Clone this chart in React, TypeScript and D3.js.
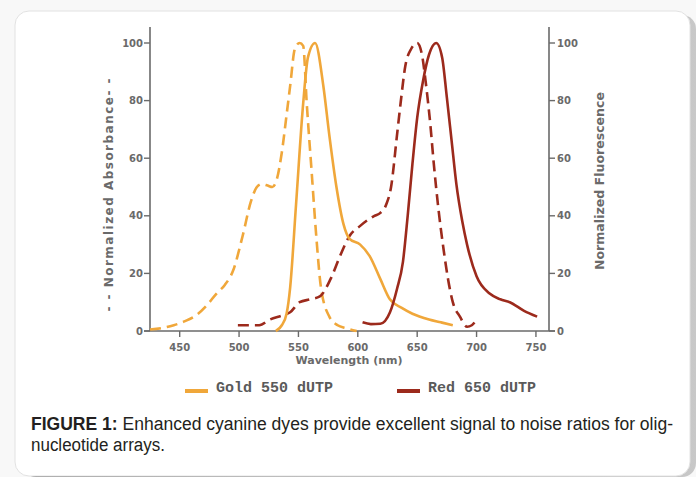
import React, { useEffect } from "react";
import * as d3 from "d3";

// Gold 550 dUTP absorbance (dashed)
const goldAbsWl = [425, 435, 445, 455, 464, 473, 481, 488, 495, 503, 510, 515, 519, 524, 528, 532, 536, 540, 543, 547, 551, 554, 557, 561, 565, 569, 576, 583, 590, 599];
const goldAbsVal = [0.5, 1, 2, 3.5, 5.5, 9, 13, 16, 21, 33, 45, 50, 51, 50.5, 50, 53, 62, 75, 85, 98, 100, 99, 79, 56, 33, 15, 5, 2, 1, 0];

// Gold 550 dUTP fluorescence (solid)
const goldEmWl = [531, 536, 540, 543, 548, 554, 558, 564, 571, 576, 582, 588, 593, 602, 610, 619, 627, 637, 646, 660, 670, 680];
const goldEmVal = [0, 2, 6, 15, 44, 79, 95, 100, 85, 68, 50, 37, 32, 30, 26, 18, 11, 8, 6, 4, 3, 2];

// Red 650 dUTP absorbance (dashed)
const redAbsWl = [499, 508, 517, 526, 537, 543, 551, 560, 568, 577, 585, 593, 602, 610, 614, 619, 624, 628, 633, 636, 640, 645, 650, 654, 657, 661, 664, 668, 672, 676, 680, 686, 692, 696, 700];
const redAbsVal = [2, 2, 2, 4, 5.5, 6.5, 10, 11, 12, 18, 26, 33, 36.5, 39, 40, 41, 44, 50, 68, 79, 92, 98, 100, 96, 87, 72, 58, 42, 29, 18, 10, 5, 1.5, 2, 4];

// Red 650 dUTP fluorescence (solid)
const redEmWl = [604, 611, 619, 627, 633, 638, 642, 646, 650, 655, 660, 666, 671, 675, 679, 683, 688, 692, 700, 711, 720, 728, 740, 751];
const redEmVal = [3, 2.4, 2.5, 6.4, 14.6, 24, 40, 58, 74, 87, 96, 100, 95, 81, 66, 51, 38, 30, 19, 13, 11, 10, 7, 5];

const xTicks = [450, 500, 550, 600, 650, 700, 750];
const yTicks = [0, 20, 40, 60, 80, 100];
const legendLabels = ["Gold 550 dUTP", "Red 650 dUTP"];

const GOLD = "#f0a73a";
const RED = "#9c2a1c";
const AXIS = "#6a6a6a";
const tickFont = "'DejaVu Sans', Verdana, sans-serif";

export default function App() {
  useEffect(() => {
    document.body.style.margin = "0";
  }, []);

  const x = d3.scaleLinear().domain([425, 761]).range([150, 549]);
  const y = d3.scaleLinear().domain([0, 100]).range([331, 43]);

  const line = d3
    .line<[number, number]>()
    .x((d) => x(d[0]))
    .y((d) => y(d[1]))
    .curve(d3.curveMonotoneX);

  const pts = (wl: number[], v: number[]) => wl.map((w, i) => [w, v[i]] as [number, number]);

  const series = [
    { d: pts(goldAbsWl, goldAbsVal), color: GOLD, dash: "11,6" },
    { d: pts(redAbsWl, redAbsVal), color: RED, dash: "11,6" },
    { d: pts(goldEmWl, goldEmVal), color: GOLD, dash: null },
    { d: pts(redEmWl, redEmVal), color: RED, dash: null },
  ];

  return (
    <svg width={696} height={477} style={{ display: "block" }}>
      <defs>
        <linearGradient id="shadow" x1="0" x2="1" y1="0" y2="0">
          <stop offset="0" stopColor="#7a7a7a" />
          <stop offset="1" stopColor="#c8c8c8" />
        </linearGradient>
      </defs>
      <rect width={696} height={477} fill="#f8f8f8" />
      {/* panel with shadow */}
      <rect x={22} y={15} width={674} height={462} rx={14} fill="url(#shadow)" />
      <rect x={15} y={11} width={675} height={465} rx={14} fill="#fff" stroke="#e2e2e2" />

      {/* axes */}
      <g stroke={AXIS} strokeWidth={1.6} fill="none">
        <line x1={150} x2={150} y1={27} y2={331} />
        <line x1={549} x2={549} y1={27} y2={331} />
        <line x1={144} x2={555} y1={331} y2={331} />
      </g>

      {yTicks.map((t) => (
        <g key={"l" + t}>
          <line x1={144} x2={150} y1={y(t)} y2={y(t)} stroke={AXIS} strokeWidth={1.4} />
          <text x={143} y={y(t) + 3.6} textAnchor="end" fontFamily={tickFont} fontWeight="bold" fontSize={10} fill={AXIS}>
            {t}
          </text>
          <line x1={549} x2={555} y1={y(t)} y2={y(t)} stroke={AXIS} strokeWidth={1.4} />
          <text x={557} y={y(t) + 3.6} fontFamily={tickFont} fontWeight="bold" fontSize={10} fill={AXIS}>
            {t}
          </text>
        </g>
      ))}

      {xTicks.map((t) => (
        <g key={"x" + t}>
          <line x1={x(t)} x2={x(t)} y1={331} y2={337} stroke={AXIS} strokeWidth={1.4} />
          <text x={x(t)} y={351} textAnchor="middle" fontFamily={tickFont} fontWeight="bold" fontSize={10} fill={AXIS}>
            {t}
          </text>
        </g>
      ))}

      <text x={349} y={364} textAnchor="middle" fontFamily={tickFont} fontWeight="bold" fontSize={11} fill={AXIS}>
        Wavelength (nm)
      </text>
      <text
        transform="translate(113,195) rotate(-90)"
        textAnchor="middle"
        fontFamily={tickFont}
        fontWeight="bold"
        fontSize={12}
        fill={AXIS}
        textLength={233}
        lengthAdjust="spacing"
      >
        - - Normalized  Absorbance- -
      </text>
      <text
        transform="translate(604,181) rotate(-90)"
        textAnchor="middle"
        fontFamily={tickFont}
        fontWeight="bold"
        fontSize={12}
        fill={AXIS}
        textLength={178}
        lengthAdjust="spacingAndGlyphs"
      >
        Normalized Fluorescence
      </text>

      {/* curves */}
      <g fill="none" strokeWidth={2.6} strokeLinejoin="round">
        {series.map((s, i) => (
          <path key={i} d={line(s.d) || ""} stroke={s.color} strokeDasharray={s.dash || undefined} />
        ))}
      </g>

      {/* legend */}
      {legendLabels.map((lab, i) => {
        const lx = i === 0 ? 185 : 397;
        return (
          <g key={lab}>
            <line x1={lx} x2={lx + 23} y1={391} y2={391} stroke={i === 0 ? GOLD : RED} strokeWidth={4} />
            <text x={lx + 31} y={392} fontFamily="'Liberation Mono', 'Courier New', monospace" fontWeight="bold" fontSize={15} fill="#5a5a5a">
              {lab}
            </text>
          </g>
        );
      })}

      {/* caption */}
      <text
        x={31}
        y={430}
        fontFamily="'Liberation Sans Narrow', 'Arial Narrow', sans-serif"
        fontSize={18}
        fill="#231f20"
        textLength={642}
        lengthAdjust="spacingAndGlyphs"
      >
        <tspan fontWeight="bold">FIGURE 1:</tspan> Enhanced cyanine dyes provide excellent signal to noise ratios for olig-
      </text>
      <text
        x={31}
        y={451}
        fontFamily="'Liberation Sans Narrow', 'Arial Narrow', sans-serif"
        fontSize={18}
        fill="#231f20"
        textLength={134}
        lengthAdjust="spacingAndGlyphs"
      >
        nucleotide arrays.
      </text>
    </svg>
  );
}
